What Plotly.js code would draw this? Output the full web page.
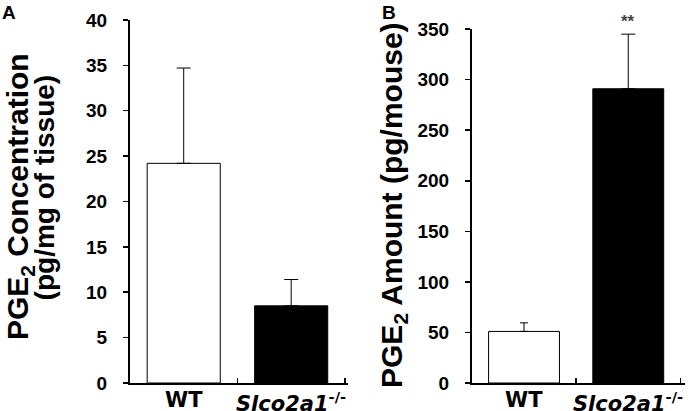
<!DOCTYPE html>
<html>
<head>
<meta charset="utf-8">
<script src="https://cdn.plot.ly/plotly-3.0.1.min.js"></script>
<style>html,body{margin:0;padding:0;background:#fff;}#chart{width:695px;height:411px;}</style>
</head>
<body>
<div id="chart"></div>
<script>
// ---- data ----
const categories = ["WT", "Slco2a1"];
const tickLabels = ["WT", "<i>Slco2a1</i><sup>-/-</sup>"];
const concValues = [24.2, 8.5];
const concErrors = [10.5, 2.9];
const amountValues = [51, 291];
const amountErrors = [8.5, 54];
const concTicks = [0, 5, 10, 15, 20, 25, 30, 35, 40];
const amountTicks = [0, 50, 100, 150, 200, 250, 300, 350];
const barFills = ["#ffffff", "#000000"];
const panelLabels = ["A", "B"];
const titleA1 = "PGE<sub>2</sub> Concentration";
const titleA2 = "(pg/mg of tissue)";
const titleB = "PGE<sub>2</sub> Amount (pg/mouse)";
const sigLabel = "**";

const FONT = "Liberation Sans, Arial, sans-serif";
const WIDE = "DejaVu Sans, sans-serif";

function barTrace(i, vals, errs, xa, ya, capw) {
  return {
    type: "bar",
    x: [categories[i]],
    y: [vals[i]],
    xaxis: xa, yaxis: ya,
    width: 0.68,
    marker: {color: barFills[i], line: {color: "#000", width: 1}},
    error_y: {type: "data", symmetric: false, array: [errs[i]], arrayminus: [0],
              color: "#000", thickness: 1, width: capw},
    hoverinfo: "skip",
    showlegend: false
  };
}

const data = [
  barTrace(0, concValues, concErrors, "x", "y", 7),
  barTrace(1, concValues, concErrors, "x", "y", 7),
  barTrace(0, amountValues, amountErrors, "x2", "y2", 4),
  barTrace(1, amountValues, amountErrors, "x2", "y2", 7)
];

const xCommon = {
  type: "category",
  categoryorder: "array", categoryarray: categories,
  tickvals: categories, ticktext: tickLabels,
  tickson: "boundaries", tickangle: 0,
  ticks: "inside", ticklen: 5, tickwidth: 1.5, tickcolor: "#000",
  showticklabels: false,
  showline: true, linecolor: "#000", linewidth: 2,
  showgrid: false, zeroline: false,
  fixedrange: true
};
const yCommon = {
  ticks: "outside", ticklen: 5, tickwidth: 1.5, tickcolor: "#000",
  showline: true, linecolor: "#000", linewidth: 2,
  showgrid: false, zeroline: false,
  tickfont: {family: FONT, size: 19, color: "#000"},
  ticklabelstandoff: 12,
  fixedrange: true
};

function vTitle(text, x, y, size) {
  return {text: "<b>" + text + "</b>", xref: "paper", yref: "paper", x: x, y: y, textangle: -90,
          xanchor: "center", yanchor: "middle", showarrow: false,
          font: {family: FONT, size: size, color: "#000"}};
}
function catLabel(i, xa) {
  return {text: "<b>" + tickLabels[i] + "</b>", xref: xa, yref: "paper", x: categories[i], y: 0,
          xanchor: "center", yanchor: "top", yshift: -3, showarrow: false,
          font: {family: WIDE, size: 21, color: "#000"}};
}

const layout = {
  width: 695, height: 411,
  margin: {l: 0, r: 0, t: 0, b: 28},
  paper_bgcolor: "#fff", plot_bgcolor: "#fff",
  xaxis: Object.assign({}, xCommon, {domain: [0.187, 0.501], anchor: "y"}),
  xaxis2: Object.assign({}, xCommon, {domain: [0.679, 0.986], anchor: "y2"}),
  yaxis: Object.assign({}, yCommon, {domain: [0, 0.948], range: [0, 40], anchor: "x",
    tickvals: concTicks, ticktext: concTicks.map(v => "<b>" + v + "</b>")}),
  yaxis2: Object.assign({}, yCommon, {domain: [0, 0.924], range: [0, 350], anchor: "x2",
    tickvals: amountTicks, ticktext: amountTicks.map(v => "<b>" + v + "</b>")}),
  annotations: [
    vTitle(titleA1, 0.029, 0.486, 30),
    vTitle(titleA2, 0.064, 0.512, 28),
    vTitle(titleB, 0.567, 0.465, 30),
    catLabel(0, "x"), catLabel(1, "x"), catLabel(0, "x2"), catLabel(1, "x2"),
    {text: "<b>" + panelLabels[0] + "</b>", xref: "paper", yref: "paper", x: 0.0, y: 1.0,
     xanchor: "left", yanchor: "top", showarrow: false, font: {family: FONT, size: 19, color: "#000"}},
    {text: "<b>" + panelLabels[1] + "</b>", xref: "paper", yref: "paper", x: 0.547, y: 1.0,
     xanchor: "left", yanchor: "top", showarrow: false, font: {family: FONT, size: 19, color: "#000"}},
    {text: "<b>" + sigLabel + "</b>", xref: "x2", yref: "y2", x: categories[1],
     y: amountValues[1] + amountErrors[1], yanchor: "bottom", yshift: 1, showarrow: false,
     font: {family: FONT, size: 17, color: "#444"}}
  ]
};

Plotly.newPlot("chart", data, layout, {staticPlot: true, displayModeBar: false});
</script>
</body>
</html>
